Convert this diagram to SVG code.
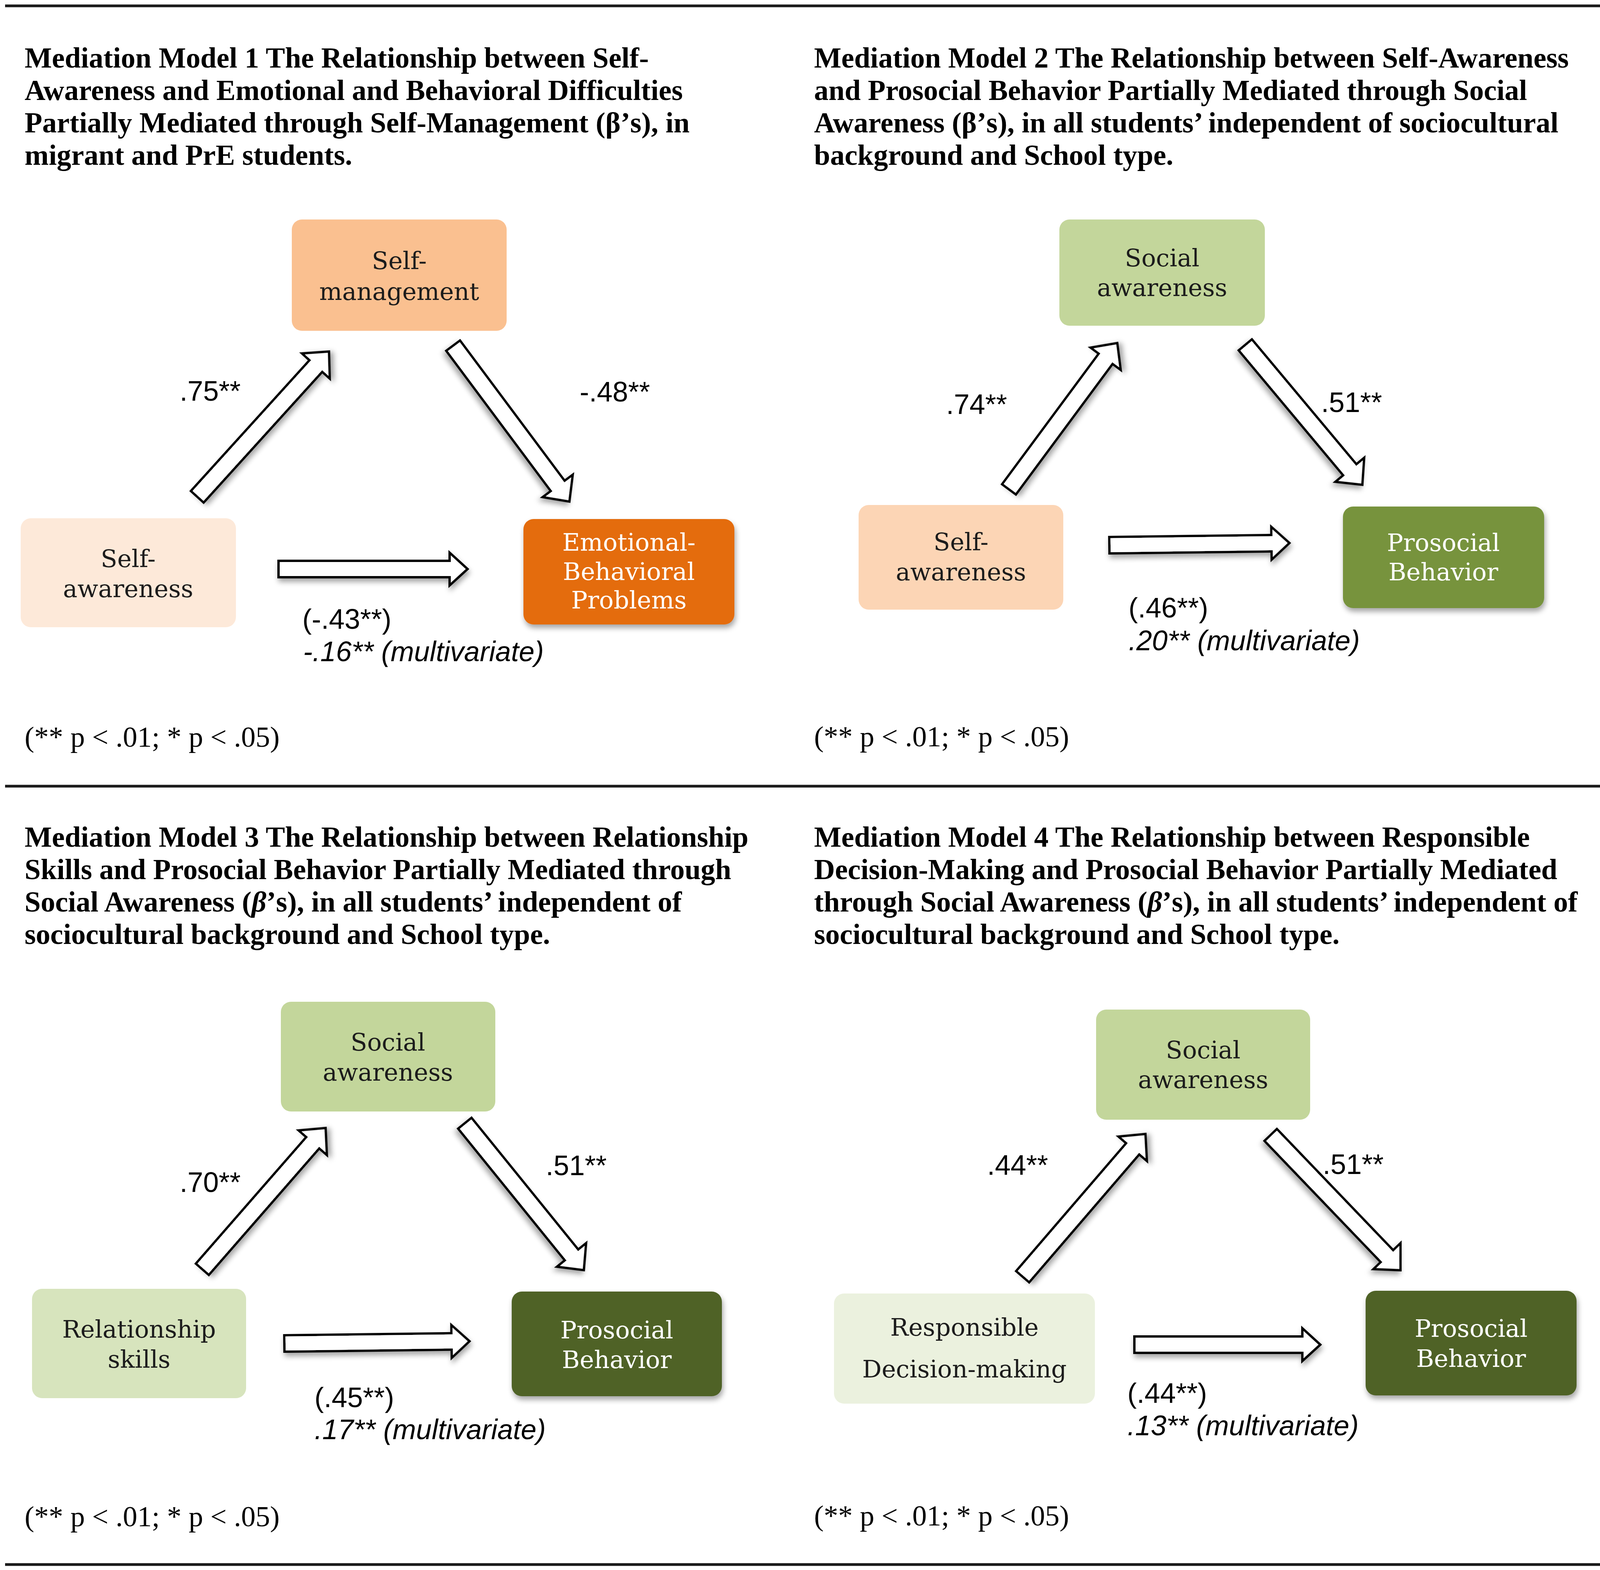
<svg xmlns="http://www.w3.org/2000/svg" width="4128" height="4020" viewBox="0 0 4128 4020">
<defs>
<filter id="sh" x="-20%" y="-20%" width="140%" height="150%">
<feDropShadow dx="3" dy="9" stdDeviation="7" flood-color="#000" flood-opacity="0.35"/>
</filter>
<style>
.rule{stroke:#1a1a1a;stroke-width:7;fill:none}
.title{font-family:"Liberation Serif","Times New Roman",serif;font-weight:bold;font-size:74px;fill:#000}
.foot{font-family:"Liberation Serif","Times New Roman",serif;font-size:74px;fill:#000}
.nt{font-family:"DejaVu Serif",serif;font-size:62px;fill:#1c1c1c;text-anchor:middle}
.nw{font-family:"DejaVu Serif",serif;font-size:62px;fill:#ffffff;text-anchor:middle}
.lab{font-family:"Liberation Sans",Arial,sans-serif;font-size:72px;fill:#000}
.it{font-style:italic}
.arr{fill:#fff;stroke:#000;stroke-width:6;stroke-linejoin:miter;filter:url(#sh)}
</style>
</defs>
<rect width="4128" height="4020" fill="#fff"/>
<g id="rules">
<line class="rule" x1="13" y1="15" x2="4112" y2="15"/>
<line class="rule" x1="13" y1="2013" x2="4112" y2="2013"/>
<line class="rule" x1="13" y1="4006" x2="4112" y2="4006"/>
</g>
<g id="titles">
<text class="title" x="63" y="173">Mediation Model 1 The Relationship between Self-</text>
<text class="title" x="63" y="256">Awareness and Emotional and Behavioral Difficulties</text>
<text class="title" x="63" y="339">Partially Mediated through Self-Management (β’s), in</text>
<text class="title" x="63" y="422">migrant and PrE students.</text>
<text class="title" x="2084" y="173">Mediation Model 2 The Relationship between Self-Awareness</text>
<text class="title" x="2084" y="256">and Prosocial Behavior Partially Mediated through Social</text>
<text class="title" x="2084" y="339">Awareness (β’s), in all students’ independent of sociocultural</text>
<text class="title" x="2084" y="422">background and School type.</text>
<text class="title" x="63" y="2168">Mediation Model 3 The Relationship between Relationship</text>
<text class="title" x="63" y="2251">Skills and Prosocial Behavior Partially Mediated through</text>
<text class="title" x="63" y="2334">Social Awareness (<tspan class="it">β</tspan>’s), in all students’ independent of</text>
<text class="title" x="63" y="2417">sociocultural background and School type.</text>
<text class="title" x="2084" y="2168">Mediation Model 4 The Relationship between Responsible</text>
<text class="title" x="2084" y="2251">Decision-Making and Prosocial Behavior Partially Mediated</text>
<text class="title" x="2084" y="2334">through Social Awareness (<tspan class="it">β</tspan>’s), in all students’ independent of</text>
<text class="title" x="2084" y="2417">sociocultural background and School type.</text>
</g>
<g id="footnotes">
<text class="foot" x="63" y="1912">(** p &lt; .01; * p &lt; .05)</text>
<text class="foot" x="2084" y="1911">(** p &lt; .01; * p &lt; .05)</text>
<text class="foot" x="63" y="3908">(** p &lt; .01; * p &lt; .05)</text>
<text class="foot" x="2084" y="3906">(** p &lt; .01; * p &lt; .05)</text>
</g>
<g id="connectors">
<path class="arr" transform="translate(505,1272) rotate(-47.8)" d="M0,-22 H452 V-48 L502,0 L452,48 V22 H0 Z"/>
<path class="arr" transform="translate(1160,885) rotate(53.3)" d="M0,-22 H448 V-48 L498,0 L448,48 V22 H0 Z"/>
<path class="arr" transform="translate(713,1457)" d="M0,-21 H438 V-42 L484,0 L438,42 V21 H0 Z"/>
<path class="arr" transform="translate(2583,1253) rotate(-53.5)" d="M0,-22 H416 V-48 L466,0 L416,48 V22 H0 Z"/>
<path class="arr" transform="translate(3188,883) rotate(50.1)" d="M0,-22 H417 V-48 L467,0 L417,48 V22 H0 Z"/>
<path class="arr" transform="translate(2840,1396) rotate(-0.7)" d="M0,-21 H415 V-42 L461,0 L415,42 V21 H0 Z"/>
<path class="arr" transform="translate(518,3250) rotate(-48.9)" d="M0,-22 H430 V-48 L480,0 L430,48 V22 H0 Z"/>
<path class="arr" transform="translate(1190,2876) rotate(51)" d="M0,-22 H434 V-48 L484,0 L434,48 V22 H0 Z"/>
<path class="arr" transform="translate(728,3440) rotate(-0.7)" d="M0,-21 H428 V-42 L474,0 L428,42 V21 H0 Z"/>
<path class="arr" transform="translate(2618,3269) rotate(-49.3)" d="M0,-22 H432 V-48 L482,0 L432,48 V22 H0 Z"/>
<path class="arr" transform="translate(3253,2906) rotate(46.2)" d="M0,-22 H430 V-48 L480,0 L430,48 V22 H0 Z"/>
<path class="arr" transform="translate(2904,3443)" d="M0,-21 H430 V-42 L476,0 L430,42 V21 H0 Z"/>
</g>
<g id="labels">
<text class="lab" x="460" y="1026">.75**</text>
<text class="lab" x="1484" y="1028">-.48**</text>
<text class="lab" x="774" y="1610">(-.43**)</text>
<text class="lab it" x="776" y="1693">-.16** (multivariate)</text>
<text class="lab" x="2422" y="1060">.74**</text>
<text class="lab" x="3382" y="1055">.51**</text>
<text class="lab" x="2889" y="1581">(.46**)</text>
<text class="lab it" x="2889" y="1665">.20** (multivariate)</text>
<text class="lab" x="460" y="3052">.70**</text>
<text class="lab" x="1397" y="3009">.51**</text>
<text class="lab" x="805" y="3603">(.45**)</text>
<text class="lab it" x="805" y="3685">.17** (multivariate)</text>
<text class="lab" x="2527" y="3008">.44**</text>
<text class="lab" x="3386" y="3006">.51**</text>
<text class="lab" x="2886" y="3592">(.44**)</text>
<text class="lab it" x="2886" y="3675">.13** (multivariate)</text>
</g>
<g id="m1-self-management">
<rect x="747" y="562" width="550" height="285" rx="26" fill="#FAC090"/>
<text class="nt" x="1022" y="689">Self-</text>
<text class="nt" x="1022" y="768">management</text>
</g>
<g id="m1-self-awareness">
<rect x="53" y="1327" width="551" height="279" rx="26" fill="#FDE9D9"/>
<text class="nt" x="328" y="1452">Self-</text>
<text class="nt" x="328" y="1529">awareness</text>
</g>
<g id="m1-emotional-behavioral">
<rect x="1340" y="1329" width="540" height="270" rx="26" fill="#E46C0A" filter="url(#sh)"/>
<text class="nw" x="1610" y="1410">Emotional-</text>
<text class="nw" x="1610" y="1485">Behavioral</text>
<text class="nw" x="1610" y="1558">Problems</text>
</g>
<g id="m2-social-awareness">
<rect x="2712" y="562" width="526" height="272" rx="26" fill="#C3D69B"/>
<text class="nt" x="2975" y="682">Social</text>
<text class="nt" x="2975" y="758">awareness</text>
</g>
<g id="m2-self-awareness">
<rect x="2198" y="1293" width="524" height="268" rx="26" fill="#FCD5B5"/>
<text class="nt" x="2460" y="1409">Self-</text>
<text class="nt" x="2460" y="1486">awareness</text>
</g>
<g id="m2-prosocial">
<rect x="3438" y="1297" width="515" height="260" rx="26" fill="#77933C" filter="url(#sh)"/>
<text class="nw" x="3695" y="1411">Prosocial</text>
<text class="nw" x="3695" y="1486">Behavior</text>
</g>
<g id="m3-social-awareness">
<rect x="719" y="2565" width="549" height="281" rx="26" fill="#C3D69B"/>
<text class="nt" x="993" y="2690">Social</text>
<text class="nt" x="993" y="2767">awareness</text>
</g>
<g id="m3-relationship-skills">
<rect x="82" y="3300" width="548" height="280" rx="26" fill="#D7E4BD"/>
<text class="nt" x="356" y="3425">Relationship</text>
<text class="nt" x="356" y="3502">skills</text>
</g>
<g id="m3-prosocial">
<rect x="1310" y="3307" width="538" height="268" rx="26" fill="#4F6228" filter="url(#sh)"/>
<text class="nw" x="1579" y="3427">Prosocial</text>
<text class="nw" x="1579" y="3503">Behavior</text>
</g>
<g id="m4-social-awareness">
<rect x="2806" y="2585" width="548" height="282" rx="26" fill="#C3D69B"/>
<text class="nt" x="3080" y="2710">Social</text>
<text class="nt" x="3080" y="2786">awareness</text>
</g>
<g id="m4-responsible">
<rect x="2135" y="3312" width="668" height="282" rx="26" fill="#EBF1DE"/>
<text class="nt" x="2469" y="3420">Responsible</text>
<text class="nt" x="2469" y="3527">Decision-making</text>
</g>
<g id="m4-prosocial">
<rect x="3496" y="3305" width="540" height="268" rx="26" fill="#4F6228" filter="url(#sh)"/>
<text class="nw" x="3766" y="3423">Prosocial</text>
<text class="nw" x="3766" y="3500">Behavior</text>
</g>
</svg>
